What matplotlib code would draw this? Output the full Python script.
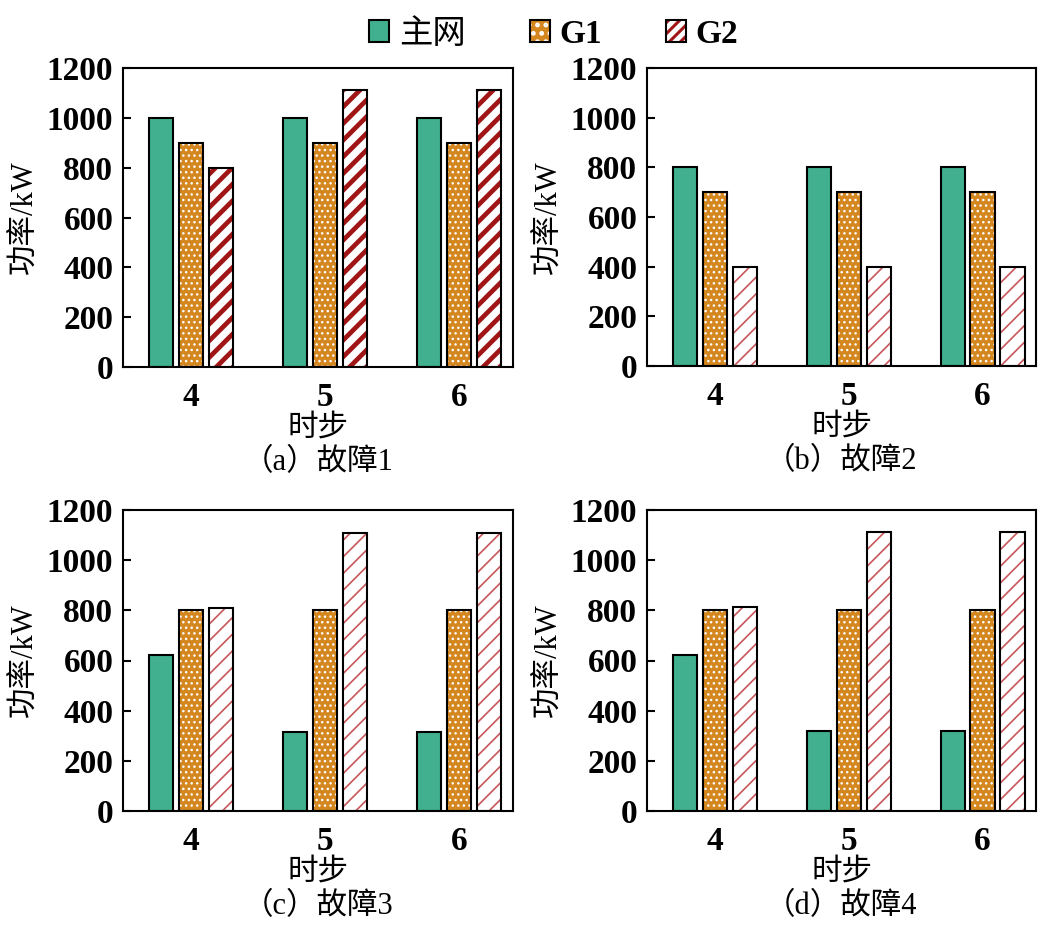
import numpy as np
import matplotlib.pyplot as plt
from matplotlib.patches import Patch

plt.rcParams['font.family'] = ['Liberation Serif', 'Noto Sans CJK SC']
plt.rcParams['hatch.linewidth'] = 1.0

# Data
steps = ['4', '5', '6']
series = ['主网', 'G1', 'G2']

a_main = [1000, 1000, 1000]
a_g1 = [900, 900, 900]
a_g2 = [800, 1110, 1110]

b_main = [800, 800, 800]
b_g1 = [700, 700, 700]
b_g2 = [400, 400, 400]

c_main = [620, 315, 315]
c_g1 = [800, 800, 800]
c_g2 = [810, 1110, 1110]

d_main = [620, 318, 318]
d_g1 = [800, 800, 800]
d_g2 = [812, 1112, 1112]

titles = ['（a）故障1', '（b）故障2', '（c）故障3', '（d）故障4']

green = '#40b08e'
orange = '#d4861f'
red_dark = '#a01515'
red_light = '#c8565a'

fig = plt.figure(figsize=(10.41, 9.31), dpi=100)
W, H = 1041, 931

# axes boxes in pixels: left, top, right, bottom
boxes = [(123, 68, 513, 367), (647, 68, 1036, 366),
         (123, 510, 513, 811), (647, 510, 1036, 811)]
data = [(a_main, a_g1, a_g2), (b_main, b_g1, b_g2),
        (c_main, c_g1, c_g2), (d_main, d_g1, d_g2)]

x = np.arange(len(steps))
bw = 0.18
off = 0.224

for i, (box, vals, title) in enumerate(zip(boxes, data, titles)):
    l, t, r, b = box
    ax = fig.add_axes([l / W, 1 - b / H, (r - l) / W, (b - t) / H])
    main, g1, g2 = vals

    if i == 0:
        stripe_col, stripe_lw = red_dark, 3.4
    else:
        stripe_col, stripe_lw = red_light, 1.2

    # main grid
    ax.bar(x - off, main, bw, color=green, edgecolor='black', linewidth=1.5)
    # G1: orange with white dots, then black outline
    plt.rcParams['hatch.linewidth'] = 1.0
    ax.bar(x, g1, bw, color=orange, edgecolor='white', linewidth=0, hatch='...')
    ax.bar(x, g1, bw, fill=False, edgecolor='black', linewidth=1.5)
    # G2: white with red stripes, then black outline
    plt.rcParams['hatch.linewidth'] = stripe_lw
    ax.bar(x + off, g2, bw, color='white', edgecolor=stripe_col, linewidth=0, hatch='//')
    ax.bar(x + off, g2, bw, fill=False, edgecolor='black', linewidth=1.5)

    ax.set_xlim(-0.51, 2.40)
    ax.set_ylim(0, 1200)
    ax.set_yticks(range(0, 1201, 200))
    ax.set_xticks(x)
    ax.set_xticklabels(steps)
    ax.tick_params(axis='y', direction='in', length=6, width=1.5, pad=7, labelsize=24)
    ax.tick_params(axis='x', length=0, pad=11, labelsize=24)
    for lab in ax.get_yticklabels() + ax.get_xticklabels():
        lab.set_fontweight('bold')
    for sp in ax.spines.values():
        sp.set_linewidth(1.5)

    ax.set_ylabel('功率/kW', fontsize=22, labelpad=5)
    ax.set_xlabel('时步', fontsize=22, labelpad=0)
    fig.text(((l + r) / 2) / W, 1 - (b + 96) / H, title, fontsize=22,
             ha='center', va='center')

# legend handles
plt.rcParams['hatch.linewidth'] = 1.0
leg_g1 = (Patch(facecolor=orange, edgecolor='white', linewidth=0, hatch='..'),
          Patch(fill=False, edgecolor='black', linewidth=1.5))
plt.rcParams['hatch.linewidth'] = 2.2
leg_g2 = (Patch(facecolor='white', edgecolor=red_dark, linewidth=0, hatch='///'),
          Patch(fill=False, edgecolor='black', linewidth=1.5))
handles = [Patch(facecolor=green, edgecolor='black', linewidth=1.5), leg_g1, leg_g2]

leg = fig.legend(handles, series, loc='upper center', bbox_to_anchor=(0.532, 1.012),
                 ncol=3, frameon=False, handlelength=0.6, handleheight=0.6,
                 columnspacing=1.9, handletextpad=0.3,
                 prop={'size': 24})
for txt in leg.get_texts()[1:]:
    txt.set_fontweight('bold')

fig.savefig('out.png', dpi=100)
